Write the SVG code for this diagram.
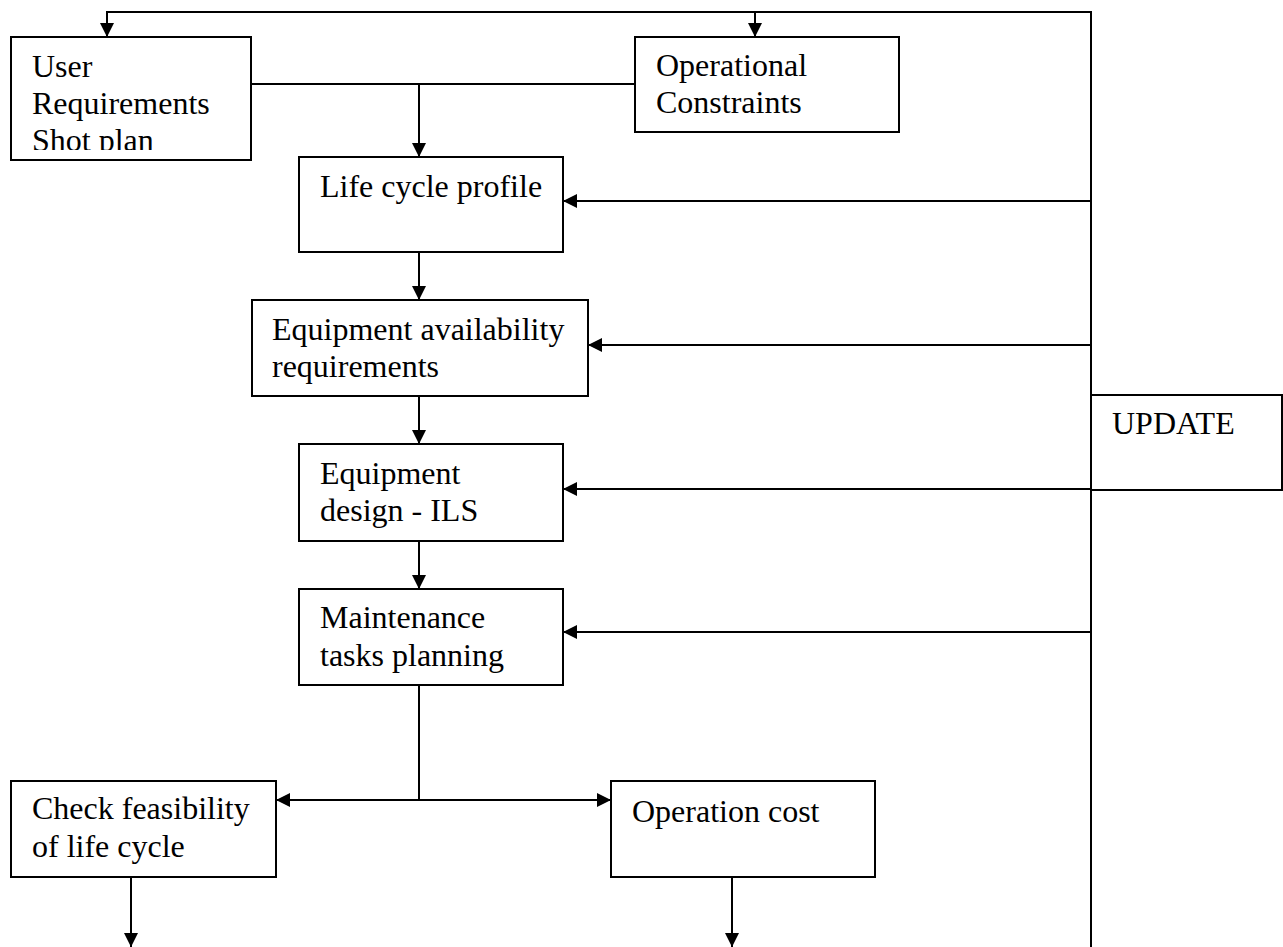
<svg xmlns="http://www.w3.org/2000/svg" width="1283" height="947" viewBox="0 0 1283 947">
<style>
.box{fill:#fff;stroke:#000;stroke-width:2}
.t{font-family:"Liberation Serif","Times New Roman",serif;font-size:32px;fill:#000}
.ln{fill:none;stroke:#000;stroke-width:2}
</style>
<defs>
<marker id="ah" viewBox="0 0 14 14" refX="14" refY="7" markerWidth="14" markerHeight="14" markerUnits="userSpaceOnUse" orient="auto">
<path d="M0,0 L14,7 L0,14 Z" fill="#000"/>
</marker>
<clipPath id="urclip"><rect x="11" y="37" width="240" height="113"/></clipPath>
</defs>
<rect width="1283" height="947" fill="#fff"/>
<g id="connectors">
<polyline class="ln" points="1091,947 1091,12 107,12 107,37" marker-end="url(#ah)"/>
<line class="ln" x1="755" y1="12" x2="755" y2="37" marker-end="url(#ah)"/>
<line class="ln" x1="251" y1="84" x2="635" y2="84"/>
<line class="ln" x1="419" y1="84" x2="419" y2="157" marker-end="url(#ah)"/>
<line class="ln" x1="419" y1="252" x2="419" y2="300" marker-end="url(#ah)"/>
<line class="ln" x1="419" y1="396" x2="419" y2="444" marker-end="url(#ah)"/>
<line class="ln" x1="419" y1="541" x2="419" y2="589" marker-end="url(#ah)"/>
<line class="ln" x1="419" y1="685" x2="419" y2="800"/>
<line class="ln" x1="419" y1="800" x2="276" y2="800" marker-end="url(#ah)"/>
<line class="ln" x1="419" y1="800" x2="611" y2="800" marker-end="url(#ah)"/>
<line class="ln" x1="131" y1="877" x2="131" y2="947" marker-end="url(#ah)"/>
<line class="ln" x1="732" y1="877" x2="732" y2="947" marker-end="url(#ah)"/>
<line class="ln" x1="1091" y1="201" x2="563" y2="201" marker-end="url(#ah)"/>
<line class="ln" x1="1091" y1="345" x2="588" y2="345" marker-end="url(#ah)"/>
<line class="ln" x1="1091" y1="489" x2="563" y2="489" marker-end="url(#ah)"/>
<line class="ln" x1="1091" y1="632" x2="563" y2="632" marker-end="url(#ah)"/>
</g>
<g id="user-req">
<rect class="box" x="11" y="37" width="240" height="123"/>
<g clip-path="url(#urclip)">
<text class="t" x="32" y="77">User</text>
<text class="t" x="32" y="114">Requirements</text>
<text class="t" x="32" y="151">Shot plan</text>
</g>
</g>
<g id="op-constraints">
<rect class="box" x="635" y="37" width="264" height="95"/>
<text class="t" x="656" y="76">Operational</text>
<text class="t" x="656" y="113">Constraints</text>
</g>
<g id="life-cycle">
<rect class="box" x="299" y="157" width="264" height="95"/>
<text class="t" x="320" y="197">Life cycle profile</text>
</g>
<g id="equip-avail">
<rect class="box" x="252" y="300" width="336" height="96"/>
<text class="t" x="272" y="340">Equipment availability</text>
<text class="t" x="272" y="377">requirements</text>
</g>
<g id="equip-design">
<rect class="box" x="299" y="444" width="264" height="97"/>
<text class="t" x="320" y="484">Equipment</text>
<text class="t" x="320" y="521">design - ILS</text>
</g>
<g id="maintenance">
<rect class="box" x="299" y="589" width="264" height="96"/>
<text class="t" x="320" y="628">Maintenance</text>
<text class="t" x="320" y="666">tasks planning</text>
</g>
<g id="check-feasibility">
<rect class="box" x="11" y="781" width="265" height="96"/>
<text class="t" x="32" y="819">Check feasibility</text>
<text class="t" x="32" y="857">of life cycle</text>
</g>
<g id="operation-cost">
<rect class="box" x="611" y="781" width="264" height="96"/>
<text class="t" x="632" y="822">Operation cost</text>
</g>
<g id="update">
<rect class="box" x="1091" y="395" width="191" height="95"/>
<text class="t" x="1112" y="434">UPDATE</text>
</g>
</svg>
